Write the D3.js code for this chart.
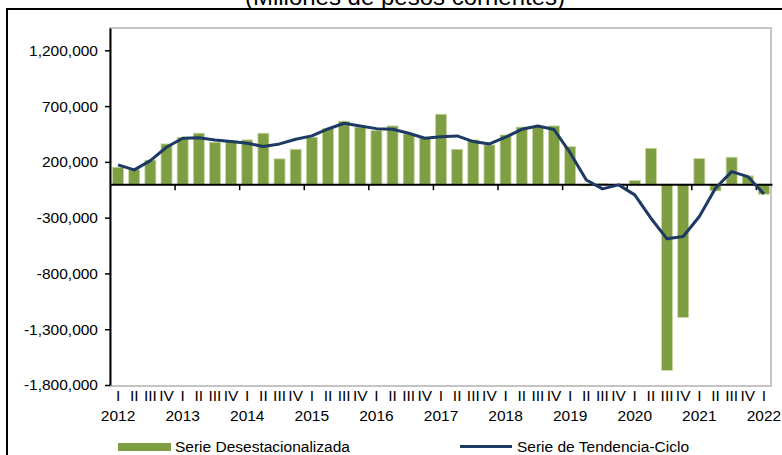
<!DOCTYPE html>
<html>
<head>
<meta charset="utf-8">
<script src="https://cdn.jsdelivr.net/npm/d3@7"></script>
<style>
  body { margin: 0; background: #fff; }
  svg text { font-family: "Liberation Sans", Arial, sans-serif; fill: #000; }
</style>
</head>
<body>
<div id="chart"></div>
<script>
// periods
const years = [2012, 2013, 2014, 2015, 2016, 2017, 2018, 2019, 2020, 2021, 2022];
const quarterLabels = ['I', 'II', 'III', 'IV'];

// Serie Desestacionalizada (millones de pesos)
const desest = [152000, 130000, 216000, 361000, 420000, 457000, 376000, 390000, 397000, 457000,
  227000, 313000, 421000, 501000, 565000, 512000, 480000, 522000, 450000, 410000,
  627000, 313000, 397000, 352000, 441000, 512000, 516000, 522000, 336000, -15000,
  5000, -5000, 34000, 322000, -1669000, -1194000, 229000, -60000, 242000, 74000, -90000];

// Serie de Tendencia-Ciclo
const trend = [173000, 128000, 211000, 331000, 412000, 417000, 397000, 382000, 367000, 337000,
  361000, 403000, 433000, 495000, 546000, 522000, 498000, 492000, 457000, 412000,
  426000, 433000, 382000, 361000, 421000, 492000, 522000, 490000, 280000, 38000,
  -42000, -6000, -96000, -305000, -490000, -469000, -290000, -36000, 113000, 68000, -87000];

const yTicks = [-1800000, -1300000, -800000, -300000, 200000, 700000, 1200000];

// build the period table
const periods = [];
years.forEach(y => {
  quarterLabels.forEach((q, i) => {
    if (periods.length < desest.length) {
      periods.push({ key: y + '-' + (i + 1), year: y, q: q, qi: i });
    }
  });
});
const data = periods.map((p, i) => ({ ...p, bar: desest[i], line: trend[i] }));

const width = 782;
const height = 455;
const plot = { left: 110, right: 772, top: 28, bottom: 385 };

const svg = d3.select('#chart')
  .append('svg')
  .attr('width', width)
  .attr('height', height);

// outer frame
svg.append('rect')
  .attr('x', 7).attr('y', 9)
  .attr('width', 800).attr('height', 500)
  .attr('fill', 'none')
  .attr('stroke', '#000')
  .attr('stroke-width', 2);

// title (cut at the top)
svg.append('text')
  .attr('x', 405)
  .attr('y', 4.5)
  .attr('text-anchor', 'middle')
  .style('font-size', '24px')
  .text('(Millones de pesos corrientes)');

// plot area border
svg.append('rect')
  .attr('x', plot.left).attr('y', plot.top)
  .attr('width', plot.right - plot.left - 1)
  .attr('height', plot.bottom - plot.top + 1)
  .attr('fill', 'none')
  .attr('stroke', '#c4c4c4')
  .attr('stroke-width', 2);

const x = d3.scaleBand()
  .domain(data.map(d => d.key))
  .range([plot.left, plot.right])
  .paddingInner(0.32)
  .paddingOuter(0.16);

const y = d3.scaleLinear()
  .domain([-1800000, 1400000])
  .range([plot.bottom, plot.top]);

const yearScale = d3.scaleLinear()
  .domain([years[0], years[0] + data.length / 4])
  .range([plot.left, plot.right]);

// bars
svg.append('g')
  .selectAll('rect')
  .data(data)
  .join('rect')
  .attr('x', d => x(d.key))
  .attr('y', d => y(Math.max(0, d.bar)))
  .attr('width', x.bandwidth())
  .attr('height', d => Math.abs(y(d.bar) - y(0)))
  .attr('fill', '#7f9d42')
  .attr('stroke', '#c6d9a2')
  .attr('stroke-width', 0.8);

// y axis
const fmt = d3.format(',');
const yAxis = svg.append('g')
  .attr('transform', `translate(${plot.left},0)`)
  .call(d3.axisLeft(y)
    .tickValues(yTicks)
    .tickSize(5)
    .tickSizeOuter(0)
    .tickPadding(7)
    .tickFormat(d => fmt(d).replace('\u2212', '-')));
yAxis.selectAll('text').style('font-size', '15.5px');
yAxis.select('.domain').attr('stroke-width', 2);
yAxis.selectAll('.tick line').attr('stroke-width', 1.5);

// zero line with year-boundary ticks
const zeroAxis = svg.append('g')
  .attr('transform', `translate(0,${y(0)})`)
  .call(d3.axisBottom(yearScale)
    .tickValues(years.slice(1))
    .tickSize(6)
    .tickSizeOuter(0)
    .tickFormat(''));
zeroAxis.select('.domain').attr('stroke-width', 2);
zeroAxis.selectAll('.tick line').attr('stroke-width', 1.5);

// trend line
svg.append('path')
  .datum(data)
  .attr('fill', 'none')
  .attr('stroke', '#1c3a63')
  .attr('stroke-width', 3)
  .attr('stroke-linejoin', 'round')
  .attr('d', d3.line()
    .x(d => x(d.key) + x.bandwidth() / 2)
    .y(d => y(d.line)));

// quarter labels
const qAxis = svg.append('g')
  .attr('transform', `translate(0,${plot.bottom})`)
  .call(d3.axisBottom(x)
    .tickSize(0)
    .tickPadding(5)
    .tickFormat(k => data.find(d => d.key === k).q));
qAxis.select('.domain').remove();
qAxis.selectAll('text').style('font-size', '15.5px');

// year labels, under the first quarter of each year
const yrAxis = svg.append('g')
  .attr('transform', `translate(0,${plot.bottom})`)
  .call(d3.axisBottom(x)
    .tickValues(data.filter(d => d.qi === 0).map(d => d.key))
    .tickSize(0)
    .tickPadding(25)
    .tickFormat(k => k.split('-')[0]));
yrAxis.select('.domain').remove();
yrAxis.selectAll('text').style('font-size', '15.5px');

// legend
const legend = svg.append('g');
legend.append('rect')
  .attr('x', 118).attr('y', 443)
  .attr('width', 53).attr('height', 8)
  .attr('fill', '#7f9d42');
legend.append('text')
  .attr('x', 175).attr('y', 451.5)
  .style('font-size', '15.5px')
  .text('Serie Desestacionalizada');
legend.append('line')
  .attr('x1', 460).attr('x2', 512)
  .attr('y1', 446.5).attr('y2', 446.5)
  .attr('stroke', '#1c3a63')
  .attr('stroke-width', 3);
legend.append('text')
  .attr('x', 517).attr('y', 451.5)
  .style('font-size', '15.5px')
  .text('Serie de Tendencia-Ciclo');
</script>
</body>
</html>
